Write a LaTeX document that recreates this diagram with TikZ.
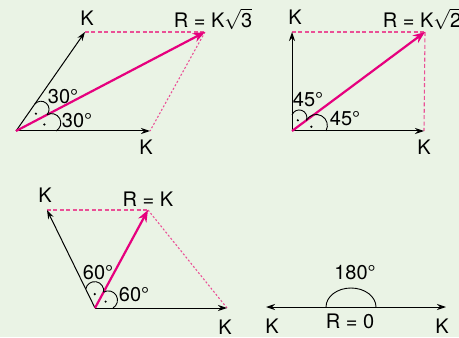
\documentclass[tikz,border=0pt]{standalone}
\usepackage{fontspec}
\setmainfont{TeX Gyre Heros}
\usepackage{xcolor}
\usetikzlibrary{arrows.meta, calc}

\definecolor{bgcol}{RGB}{234,243,229}
\definecolor{rescol}{RGB}{230,0,126}
\definecolor{dashcol}{RGB}{234,80,150}

% little angle bump between two rays from #1 (towards #2 at #3, towards #4 at #5)
\newcommand{\angbump}[5]{%
  \draw[markline] let \p1=($(#1)!#3!(#2)$), \p2=($(#1)!#5!(#4)$),
      \n1={atan2(\y1-\y2,\x1-\x2)}, \n2={veclen(\x1-\x2,\y1-\y2)/2}
    in (\p1) arc[start angle=\n1, delta angle=-180, radius={\n2*1pt}];
  \fill let \p1=($(#1)!#3!(#2)$), \p2=($(#1)!#5!(#4)$),
      \p3=($(\p1)!0.5!(\p2)$)
    in ($(#1)!0.8!(\p3)$) circle (0.6pt);}

\begin{document}
\begin{tikzpicture}[
    x=0.5pt, y=0.5pt,
    vec/.style={draw=black, line width=0.5pt,
                -{Stealth[length=4.5pt, width=3pt]}},
    res/.style={draw=rescol, line width=1.1pt,
                -{Stealth[length=6pt, width=4.6pt]}},
    aux/.style={draw=dashcol, line width=0.55pt, dash pattern=on 2pt off 1.2pt},
    auxdot/.style={aux, dash pattern=on 1pt off 1pt},
    markline/.style={line width=0.45pt},
    lbl/.style={font=\fontsize{10}{11}\selectfont, inner sep=0pt},
]

% background
\fill[bgcol] (0,0) rectangle (459,337);
\useasboundingbox (0,0) rectangle (459,337);

% ---------------------------------------------------------------------------
%  top left: 60 degrees between the forces
% ---------------------------------------------------------------------------
\coordinate (O1) at (16,206);
\coordinate (A1) at (150,206);
\coordinate (B1) at (85,305);
\coordinate (R1) at (205,305);

\draw[aux] (B1) -- (R1);
\draw[auxdot] (R1) -- (A1);
\draw[vec] (O1) -- (A1);
\draw[vec] (O1) -- (B1);
\draw[res] (O1) -- (R1);

\angbump{O1}{B1}{16.5pt}{R1}{17.5pt}
\angbump{O1}{R1}{17.5pt}{A1}{20pt}

\node[lbl] (kB1) at (87,319) {K};
\node[lbl] (kA1) at (146,190) {K};
\node[lbl] (rR1) at (213,318) {R = K$\sqrt{\mbox{3}}$};
\node[lbl] (aU1) at (63,240) {30°};
\node[lbl] (aL1) at (77,216) {30°};

% ---------------------------------------------------------------------------
%  top right: 90 degrees between the forces
% ---------------------------------------------------------------------------
\coordinate (O2) at (292,206);
\coordinate (A2) at (424,206);
\coordinate (B2) at (292,305);
\coordinate (R2) at (425,305);

\draw[aux] (B2) -- (R2);
\draw[aux] (R2) -- (A2);
\draw[vec] (O2) -- (A2);
\draw[vec] (O2) -- (B2);
\draw[res] (O2) -- (R2);

\angbump{O2}{B2}{8pt}{R2}{9pt}
\angbump{O2}{R2}{9pt}{A2}{17pt}

\node[lbl] (kB2) at (295,320) {K};
\node[lbl] (kA2) at (424,190) {K};
\node[lbl] (rR2) at (422,318) {R = K$\sqrt{\mbox{2}}$};
\node[lbl] (aU2) at (308,237) {45°};
\node[lbl] (aL2) at (345,218) {45°};

% ---------------------------------------------------------------------------
%  bottom left: 120 degrees between the forces
% ---------------------------------------------------------------------------
\coordinate (O3) at (95,29);
\coordinate (A3) at (227,29);
\coordinate (B3) at (47,127);
\coordinate (R3) at (148,127);

\draw[aux] (B3) -- (R3);
\draw[auxdot] (R3) -- (A3);
\draw[vec] (O3) -- (A3);
\draw[vec] (O3) -- (B3);
\draw[res] (O3) -- (R3);

\angbump{O3}{B3}{10.5pt}{R3}{9pt}
\angbump{O3}{R3}{9pt}{A3}{9pt}

\node[lbl] (kB3) at (45,142) {K};
\node[lbl] (kA3) at (225,10) {K};
\node[lbl] (rR3) at (148,138) {R = K};
\node[lbl] (aU3) at (98,64) {60°};
\node[lbl] (aL3) at (134,42) {60°};

% ---------------------------------------------------------------------------
%  bottom right: 180 degrees between the forces
% ---------------------------------------------------------------------------
\coordinate (O4) at (351,30);
\coordinate (A4) at (446,30);
\coordinate (B4) at (266,30);

\draw[vec] (O4) -- (A4);
\draw[vec] (O4) -- (B4);
\draw[markline] ($(O4)+(-25,0)$) arc[start angle=180, end angle=0,
    x radius=12.5pt, y radius=9.5pt];

\node[lbl] (kB4) at (272,11) {K};
\node[lbl] (kA4) at (442,11) {K};
\node[lbl] (rR4) at (350,16) {R = 0};
\node[lbl] (aU4) at (355,64) {180°};

\end{tikzpicture}
\end{document}
